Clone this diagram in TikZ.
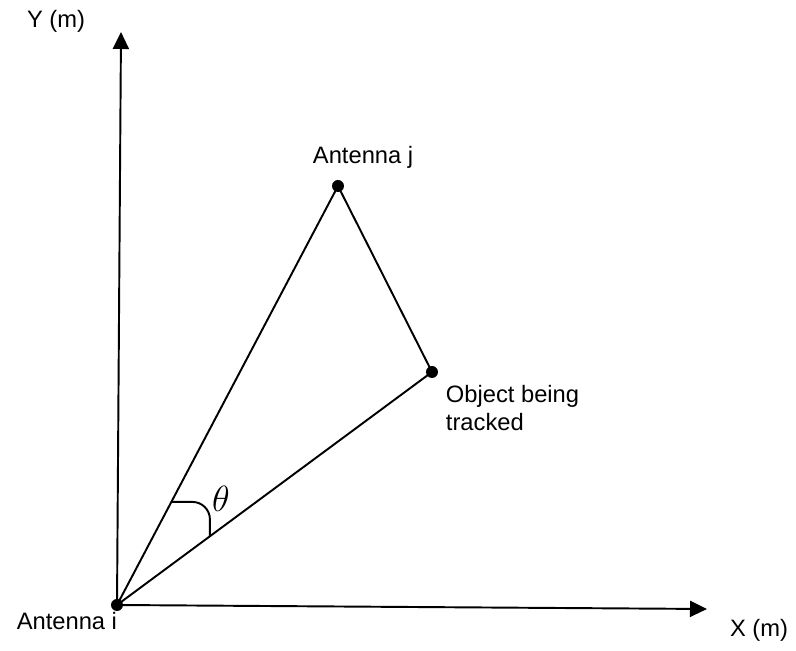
\documentclass[tikz,border=0pt]{standalone}
\usepackage{fontspec}
\setmainfont{Liberation Sans}
\usetikzlibrary{arrows.meta, positioning, calc}

\tikzset{
  dot/.style={circle, fill=black, inner sep=0pt, minimum size=2.4mm},
  lbl/.style={font=\fontsize{13.5}{16}\selectfont, inner sep=0pt},
}

\begin{document}
\begin{tikzpicture}[x=0.02cm, y=-0.02cm, >={Triangle[length=3.4mm, width=3.2mm]}, line width=1.1pt]

\useasboundingbox (0,0) rectangle (796,651);

% Antennas and object
\node[dot] (ai) at (117,605) {};
\node[dot] (aj) at (338,186) {};
\node[dot] (obj) at (432,372) {};
\coordinate (ytip) at (121,32);
\coordinate (xtip) at (707,609);

% Axes
\draw[->] (ai.center) -- (ytip);
\draw[->] (ai.center) -- (xtip);

% Triangle
\draw (ai.center) -- (aj.center) -- (obj.center) -- (ai.center);

% Angle theta
\coordinate (th1) at ($(ai.center)!0.246!(aj.center)$);
\coordinate (th2) at ($(ai.center)!0.295!(obj.center)$);
\draw[rounded corners=0.35cm] (th1) -| (th2);
\node[font=\fontsize{20}{22}\selectfont] (th) at (221,499) {$\theta$};

% Labels
\node[lbl, anchor=base east] (ailbl) at (118,630) {Antenna i};
\node[lbl, anchor=base west] (ajlbl) at (312,164) {Antenna j};
\node[lbl, anchor=north west, align=left] (objlbl) at (445,384) {Object being\\tracked};
\node[lbl] (ylbl) at (56,21) {Y (m)};
\node[lbl] (xlbl) at (759,630) {X (m)};

\end{tikzpicture}
\end{document}
